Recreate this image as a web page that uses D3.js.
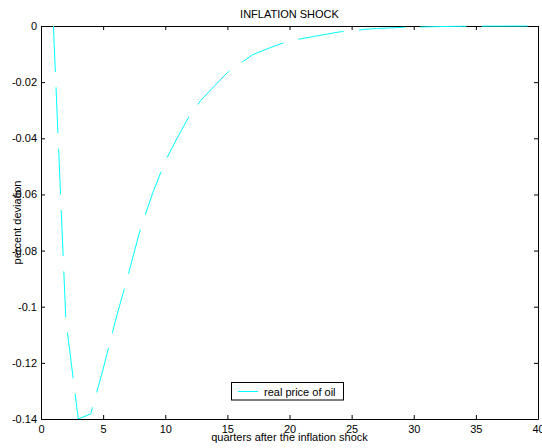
<!DOCTYPE html>
<html>
<head>
<meta charset="utf-8">
<script src="https://cdn.jsdelivr.net/npm/d3@7"></script>
<style>
  html, body { margin: 0; padding: 0; background: #fff; }
  svg { display: block; font-family: "Liberation Sans", Arial, sans-serif; }
</style>
</head>
<body>
<svg id="chart" width="542" height="448"></svg>
<script>
const quarters = d3.range(1, 41);
const oilPrice = [
  0, -0.1047, -0.1400, -0.1382, -0.1222, -0.1048, -0.0889, -0.0723, -0.0594, -0.0481,
  -0.0396, -0.0315, -0.0258, -0.0212, -0.0166, -0.0135, -0.0103, -0.0085, -0.0068, -0.0053,
  -0.0045, -0.0037, -0.0029, -0.0021, -0.0018, -0.0012, -0.0009, -0.0007, -0.0005, -0.0004,
  -0.0003, -0.0002, -0.00015, -0.0001, -0.0001, -0.00005, -0.00004, -0.00003, -0.00002, -0.00001
];
const xTicks = [0, 5, 10, 15, 20, 25, 30, 35, 40];
const yTicks = [0, -0.02, -0.04, -0.06, -0.08, -0.1, -0.12, -0.14];
const yTickLabels = ["0", "-0.02", "-0.04", "-0.06", "-0.08", "-0.1", "-0.12", "-0.14"];
const titleText = "INFLATION SHOCK";
const xLabel = "quarters after the inflation shock";
const yLabel = "percent deviation";
const seriesName = "real price of oil";

const svg = d3.select("#chart");
const L = 41, R = 538, T = 26, B = 419;
const x = d3.scaleLinear().domain([0, 40]).range([L, R]);
const y = d3.scaleLinear().domain([-0.14, 0]).range([B, T]);

function styleAxis(g) {
  g.attr("font-family", null);
  g.selectAll("path.domain").attr("stroke", "#000").attr("stroke-width", 1);
  g.selectAll(".tick line").attr("stroke", "#000");
  g.selectAll("text").attr("fill", "#000").attr("font-size", 11);
}

svg.append("g").attr("transform", `translate(0,${B})`)
  .call(d3.axisBottom(x).tickValues(xTicks).tickSizeInner(-4).tickSizeOuter(0).tickPadding(6)
    .tickFormat(d3.format("d")))
  .call(styleAxis);
svg.append("g").attr("transform", `translate(0,${T})`)
  .call(d3.axisTop(x).tickValues(xTicks).tickSizeInner(-4).tickSizeOuter(0).tickFormat(""))
  .call(styleAxis);
svg.append("g").attr("transform", `translate(${L},0)`)
  .call(d3.axisLeft(y).tickValues(yTicks).tickSizeInner(-4).tickSizeOuter(0).tickPadding(4)
    .tickFormat((d, i) => yTickLabels[i]))
  .call(styleAxis);
svg.append("g").attr("transform", `translate(${R},0)`)
  .call(d3.axisRight(y).tickValues(yTicks).tickSizeInner(-4).tickSizeOuter(0).tickFormat(""))
  .call(styleAxis);

// data line (drawn over the axes box, as in the reference)
const line = d3.line().x((d, i) => x(quarters[i])).y(d => y(d));
svg.append("path")
  .datum(oilPrice)
  .attr("d", line)
  .attr("fill", "none")
  .attr("stroke", "#00ffff")
  .attr("stroke-width", 1)
  .attr("stroke-dasharray", "46,15.4");

// title
svg.append("text").attr("x", (L + R) / 2).attr("y", 18)
  .attr("text-anchor", "middle").attr("font-size", 11).text(titleText);
// x label
svg.append("text").attr("x", (L + R) / 2).attr("y", 441)
  .attr("text-anchor", "middle").attr("font-size", 11).text(xLabel);
// y label
svg.append("text").attr("transform", `translate(21,${(T + B) / 2}) rotate(-90)`)
  .attr("text-anchor", "middle").attr("font-size", 11).text(yLabel);

// legend
const lg = svg.append("g");
lg.append("rect").attr("x", 231.5).attr("y", 382.5).attr("width", 112).attr("height", 17.5)
  .attr("fill", "#fff").attr("stroke", "#000").attr("stroke-width", 1);
lg.append("line").attr("x1", 238).attr("x2", 258).attr("y1", 391.5).attr("y2", 391.5)
  .attr("stroke", "#00ffff").attr("stroke-width", 1);
lg.append("text").attr("x", 264).attr("y", 395.5).attr("font-size", 11).text(seriesName);
</script>
</body>
</html>
